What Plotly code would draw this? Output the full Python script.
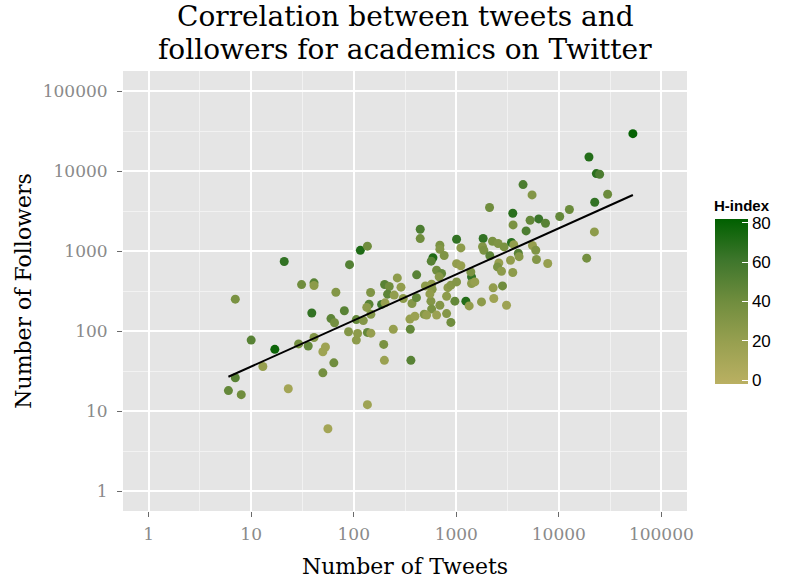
import plotly.graph_objects as go

# ---- data ----
tweets = [6, 7, 8, 7, 10, 13, 17, 21, 23, 29, 31, 36, 39, 41, 41, 41, 50, 53, 50, 56,
          60, 65, 64, 67, 81, 89, 91, 106, 106, 109, 116, 136, 124, 136, 147, 136, 141, 134, 147, 146,
          187, 202, 200, 222, 214, 248, 266, 243, 199, 196, 289, 304, 356, 361, 370, 353, 395, 409, 411, 445,
          445, 487, 500, 575, 582, 566, 575, 514, 643, 592, 570, 643, 719, 681, 692, 692, 762, 692, 805, 805,
          886, 829, 886, 1007, 1109, 1007, 1109, 1007, 969, 1240, 1336, 1409, 1387, 1409, 1517, 1763, 1828, 1803, 1857, 2110,
          2125, 2256, 2558, 2926, 3454, 3638, 2288, 2323, 2600, 2523, 2761, 2825, 3090, 3379, 3556, 3556, 3581, 4030, 4095, 4480,
          4797, 5248, 5485, 5533, 5957, 6053, 6370, 7413, 7798, 10200, 12680, 18700, 19680, 22230, 22390, 23230, 25000, 29930, 52760, 553]

followers = [18, 26, 16, 250, 77, 36, 59, 740, 19, 69, 380, 65, 168, 400, 370, 83, 55, 63, 30, 6,
             143, 127, 40, 305, 179, 98, 675, 139, 77, 93, 1020, 1150, 135, 96, 94, 12, 216, 197, 162, 303,
             215, 225, 381, 360, 289, 281, 461, 105, 43, 68, 353, 255, 105, 43, 221, 141, 153, 261, 503, 1870,
             1430, 162, 366, 385, 333, 236, 188, 158, 158, 824, 746, 575, 524, 475, 1181, 1052, 879, 210, 272, 165,
             128, 348, 374, 1403, 1093, 694, 655, 411, 236, 236, 206, 475, 548, 393, 411, 231, 1432, 1132, 1023, 3493,
             873, 1325, 1241, 1125, 1277, 1199, 346, 255, 710, 633, 559, 366, 210, 767, 539, 2965, 2118, 938, 849, 6761,
             1782, 2425, 5020, 1171, 1023, 783, 2517, 2223, 698, 2698, 3297, 813, 14960, 1731, 4066, 9290, 9100, 5118, 29310, 291]

h_index = [45, 50, 40, 35, 50, 20, 78, 65, 12, 38, 40, 45, 65, 50, 25, 30, 15, 15, 38, 12,
           48, 38, 40, 30, 50, 30, 52, 45, 25, 25, 72, 40, 30, 45, 20, 15, 50, 25, 30, 32,
           60, 20, 50, 40, 48, 22, 25, 20, 18, 35, 22, 25, 45, 50, 30, 20, 18, 45, 50, 55,
           40, 30, 25, 22, 28, 30, 35, 20, 18, 72, 50, 40, 45, 28, 35, 30, 32, 30, 25, 30,
           40, 25, 28, 65, 25, 22, 20, 30, 45, 70, 22, 65, 35, 25, 20, 25, 65, 30, 35, 40,
           48, 35, 32, 35, 68, 22, 22, 15, 20, 35, 25, 40, 15, 22, 25, 68, 35, 50, 28, 55,
           55, 45, 30, 20, 32, 30, 62, 50, 20, 45, 42, 38, 70, 25, 65, 68, 55, 42, 80, 22]

# fitted trend line (log-log linear fit), endpoints
fit_tweets = [6, 52760]
fit_followers = [26.8, 5010]

x_ticks = [1, 10, 100, 1000, 10000, 100000]
y_ticks = [1, 10, 100, 1000, 10000, 100000]
x_tick_labels = ["1", "10", "100", "1000", "10000", "100000"]
y_tick_labels = ["1", "10", "100", "1000", "10000", "100000"]
minor_ticks = [10 ** 0.5, 10 ** 1.5, 10 ** 2.5, 10 ** 3.5, 10 ** 4.5]
h_ticks = [0, 20, 40, 60, 80]

title_line1 = "Correlation between tweets and"
title_line2 = "followers for academics on Twitter"
legend_title = "H-index"

SERIF = "DejaVu Serif"
SANS = "Liberation Sans, Arial, sans-serif"

colorscale = [
    [0.0, "rgb(186,176,98)"],
    [0.25, "rgb(152,160,80)"],
    [0.5, "rgb(112,141,62)"],
    [0.75, "rgb(62,118,44)"],
    [1.0, "rgb(0,96,0)"],
]

# plot-area geometry (pixels) used for placing paper-referenced items
M_L, M_R, M_T, M_B = 123, 100, 71, 68
W, H = 787, 579
PW, PH = W - M_L - M_R, H - M_T - M_B


def px_x(p):
    return (p - M_L) / PW


def px_y(p):
    return (H - M_B - p) / PH


fig = go.Figure()

fig.add_trace(go.Scatter(
    x=tweets, y=followers, mode="markers",
    marker=dict(
        size=9, color=h_index, colorscale=colorscale, cmin=-2, cmax=82,
        line=dict(width=0),
        colorbar=dict(
            tickvals=h_ticks, ticktext=[str(v) for v in h_ticks],
            tickfont=dict(family=SANS, size=17, color="black"),
            ticks="inside", ticklen=6, tickcolor="white", tickwidth=1,
            thickness=33, thicknessmode="pixels",
            len=165, lenmode="pixels",
            x=px_x(715), xanchor="left", xpad=0,
            y=px_y(301.5), yanchor="middle", ypad=0,
            outlinewidth=0,
        ),
    ),
    showlegend=False, hoverinfo="x+y",
))

fig.add_trace(go.Scatter(
    x=fit_tweets, y=fit_followers, mode="lines",
    line=dict(color="black", width=2),
    showlegend=False, hoverinfo="skip",
))

axis_common = dict(
    type="log", automargin=False,
    showgrid=True, gridcolor="white", gridwidth=1.6,
    zeroline=False, showline=False,
    ticks="outside", ticklen=5, tickwidth=1.3, tickcolor="#6b6b6b",
    tickfont=dict(family=SERIF, size=17, color="#8a8a8a"),
    minor=dict(tickmode="array", tickvals=minor_ticks, showgrid=True,
               gridcolor="#f2f2f2", gridwidth=0.8, ticks=""),
)

fig.update_xaxes(
    **axis_common,
    range=[-0.25, 5.25],
    tickmode="array", tickvals=x_ticks, ticktext=x_tick_labels,
    ticklabelstandoff=3,
    title=dict(text="Number of Tweets", font=dict(family=SERIF, size=22, color="black"), standoff=15),
)
fig.update_yaxes(
    **axis_common,
    range=[-0.25, 5.25],
    tickmode="array", tickvals=y_ticks, ticktext=y_tick_labels,
    ticklabelstandoff=6,
    title=dict(text="Number of Followers", font=dict(family=SERIF, size=22, color="black"), standoff=4),
)

fig.add_annotation(text=title_line1, xref="paper", yref="paper", x=0.5, y=px_y(17.0),
                   xanchor="center", yanchor="middle", showarrow=False,
                   font=dict(family=SERIF, size=28, color="black"))
fig.add_annotation(text=title_line2, xref="paper", yref="paper", x=0.5, y=px_y(49.8),
                   xanchor="center", yanchor="middle", showarrow=False,
                   font=dict(family=SERIF, size=28, color="black"))
fig.add_annotation(text="<b>" + legend_title + "</b>", xref="paper", yref="paper",
                   x=px_x(712), y=px_y(205), xanchor="left", yanchor="middle", showarrow=False,
                   font=dict(family=SANS, size=15, color="black"))

fig.update_layout(
    width=W, height=H,
    margin=dict(l=M_L, r=M_R, t=M_T, b=M_B, autoexpand=False),
    paper_bgcolor="white", plot_bgcolor="#e5e5e5",
    font=dict(family=SERIF),
)

fig.write_html("out.html")
